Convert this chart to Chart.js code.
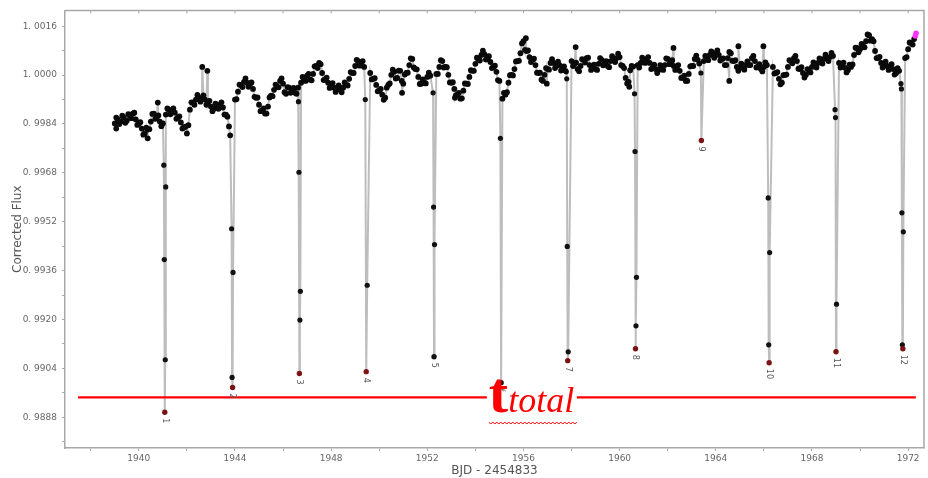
<!DOCTYPE html>
<html><head><meta charset="utf-8">
<script src="https://cdn.jsdelivr.net/npm/chart.js@4.4.1/dist/chart.umd.min.js"></script>
<style>html,body{margin:0;padding:0;background:#fff;}#wrap{width:928px;height:478px;}</style>
</head><body><div id="wrap"><canvas id="c" width="928" height="478"></canvas></div>
<script>
// ---- baseline (out-of-transit) light curve ----
const baseTime = [
1939.000,1939.125,1939.250,1939.375,1939.500,1939.625,1939.750,1939.875,
1940.000,1940.125,1940.250,1940.375,1940.500,1940.625,1940.750,1940.875,
1941.000,1941.125,1941.250,1941.375,1941.500,1941.625,1941.750,1941.875,
1942.000,1942.125,1942.250,1942.375,1942.500,1942.625,1942.750,1942.875,
1943.000,1943.125,1943.250,1943.375,1943.500,1943.625,1943.750,
1944.000,1944.125,1944.250,1944.375,1944.500,1944.625,1944.750,1944.875,
1945.000,1945.125,1945.250,1945.375,1945.500,1945.625,1945.750,1945.875,
1946.000,1946.125,1946.250,1946.375,1946.500,1946.625,1946.750,1946.875,
1947.000,1947.125,1947.250,1947.375,1947.500,1947.625,1947.750,1947.875,
1948.000,1948.125,1948.250,1948.375,1948.500,1948.625,1948.750,1948.875,
1949.000,1949.125,1949.250,1949.375,1949.625,1949.750,1949.875,
1950.000,1950.125,1950.250,1950.375,1950.500,1950.625,1950.750,1950.875,
1951.000,1951.125,1951.250,1951.375,1951.500,1951.625,1951.750,1951.875,
1952.000,1952.125,1952.375,1952.500,1952.625,1952.750,1952.875,
1953.000,1953.125,1953.250,1953.375,1953.500,1953.625,1953.750,1953.875,
1954.000,1954.125,1954.250,1954.375,1954.500,1954.625,1954.750,1954.875,
1955.000,1955.125,1955.250,1955.375,1955.500,1955.625,1955.750,1955.875,
1956.000,1956.125,1956.250,1956.375,1956.500,1956.625,1956.750,1956.875,
1957.000,1957.125,1957.250,1957.375,1957.500,1957.625,1957.750,
1958.000,1958.125,1958.250,1958.375,1958.500,1958.625,1958.750,1958.875,
1959.000,1959.125,1959.250,1959.375,1959.500,1959.625,1959.750,1959.875,
1960.000,1960.125,1960.250,1960.375,1960.500,1960.750,1960.875,
1961.000,1961.125,1961.250,1961.375,1961.500,1961.625,1961.750,1961.875,
1962.000,1962.125,1962.250,1962.375,1962.500,1962.625,1962.750,1962.875,
1963.000,1963.125,1963.250,1963.500,1963.625,1963.750,1963.875,
1964.000,1964.125,1964.250,1964.375,1964.500,1964.625,1964.750,1964.875,
1965.000,1965.125,1965.250,1965.375,1965.500,1965.625,1965.750,1965.875,
1966.000,1966.125,1966.375,1966.500,1966.625,1966.750,1966.875,
1967.000,1967.125,1967.250,1967.375,1967.500,1967.625,1967.750,1967.875,
1968.000,1968.125,1968.250,1968.375,1968.500,1968.625,1968.750,1968.875,
1969.125,1969.250,1969.375,1969.500,1969.625,1969.750,1969.875,
1970.000,1970.125,1970.250,1970.375,1970.500,1970.625,1970.750,1970.875,
1971.000,1971.125,1971.250,1971.375,1971.500,1971.625,1971.875,
1972.000,1972.125,1972.250
];
const baseFlux = [
0.99842,0.99855,0.99848,0.99861,0.99851,0.99868,0.99874,0.99855,
0.99842,0.99825,0.99809,0.99822,0.99848,0.99874,0.99864,0.99848,
0.99842,0.99871,0.99887,0.99881,0.99877,0.99861,0.99845,0.99829,
0.99809,0.99887,0.99910,0.99920,0.99926,0.99923,0.99920,0.99910,
0.99897,0.99890,0.99900,0.99903,0.99894,0.99871,0.99832,
0.99920,0.99946,0.99968,0.99978,0.99975,0.99972,0.99955,0.99926,
0.99903,0.99884,0.99874,0.99897,0.99933,0.99952,0.99962,0.99981,
0.99972,0.99939,0.99959,0.99949,0.99942,0.99959,0.99975,0.99988,
0.99998,0.99985,1.00004,1.00030,1.00040,1.00007,0.99985,0.99975,
0.99965,0.99959,0.99955,0.99952,0.99959,0.99968,0.99988,1.00007,
1.00030,1.00046,1.00040,1.00027,1.00007,0.99988,0.99968,
0.99949,0.99936,0.99926,0.99968,1.00001,1.00011,0.99991,1.00014,
0.99972,1.00007,1.00033,1.00053,1.00020,0.99994,0.99972,0.99975,
0.99994,0.99998,1.00004,1.00027,1.00046,1.00027,1.00001,
0.99975,0.99955,0.99936,0.99923,0.99949,0.99972,0.99994,1.00014,
1.00037,1.00053,1.00066,1.00069,1.00056,1.00043,1.00027,1.00011,
0.99981,0.99923,0.99936,0.99975,1.00001,1.00020,1.00046,1.00072,
1.00111,1.00079,1.00059,1.00050,1.00033,1.00007,0.99985,1.00001,
1.00020,1.00040,1.00040,1.00030,1.00033,1.00020,1.00014,
1.00046,1.00037,1.00020,1.00030,1.00050,1.00056,1.00033,1.00024,
1.00020,1.00037,1.00050,1.00037,1.00030,1.00046,1.00053,1.00056,
1.00059,1.00030,0.99991,0.99978,1.00030,1.00033,1.00040,
1.00050,1.00053,1.00040,1.00024,1.00020,1.00017,1.00024,1.00033,
1.00053,1.00043,1.00030,1.00027,1.00014,0.99991,0.99981,1.00004,
1.00030,1.00053,1.00050,1.00046,1.00056,1.00066,1.00066,
1.00072,1.00066,1.00053,1.00033,1.00056,1.00072,1.00046,1.00027,
1.00024,1.00027,1.00033,1.00033,1.00056,1.00046,1.00027,1.00020,
1.00027,1.00033,1.00027,1.00007,0.99988,0.99975,1.00001,
1.00027,1.00046,1.00056,1.00046,1.00020,1.00007,1.00001,1.00014,
1.00027,1.00033,1.00040,1.00046,1.00053,1.00056,1.00059,1.00063,
1.00040,1.00033,1.00024,1.00017,1.00027,1.00066,1.00089,
1.00085,1.00095,1.00111,1.00131,1.00118,1.00079,1.00056,1.00040,
1.00033,1.00030,1.00027,1.00020,1.00007,1.00014,1.00056,
1.00085,1.00105,1.00118
];
// ---- in-between observations: upper/lower edge of the scattered band ----
const scatterTime = [
1939.0625,1939.1875,1939.3125,1939.4375,1939.5625,1939.6875,1939.8125,1939.9375,
1940.0625,1940.1875,1940.3125,1940.4375,1940.5625,1940.6875,1940.8125,1940.9375,
1941.1875,1941.3125,1941.4375,1941.5625,1941.6875,1941.8125,1941.9375,
1942.0625,1942.1875,1942.3125,1942.4375,1942.5625,1942.6875,1942.8125,1942.9375,
1943.0625,1943.1875,1943.3125,1943.4375,1943.5625,1943.6875,
1944.0625,1944.1875,1944.3125,1944.4375,1944.5625,1944.6875,1944.8125,1944.9375,
1945.0625,1945.1875,1945.3125,1945.4375,1945.5625,1945.6875,1945.8125,1945.9375,
1946.0625,1946.1875,1946.3125,1946.4375,1946.5625,1946.8125,1946.9375,
1947.0625,1947.1875,1947.3125,1947.4375,1947.5625,1947.6875,1947.8125,1947.9375,
1948.0625,1948.1875,1948.3125,1948.4375,1948.5625,1948.6875,1948.8125,1948.9375,
1949.0625,1949.1875,1949.3125,1949.6875,1949.8125,1949.9375,
1950.0625,1950.1875,1950.3125,1950.4375,1950.5625,1950.6875,1950.8125,1950.9375,
1951.0625,1951.1875,1951.3125,1951.4375,1951.5625,1951.6875,1951.8125,1951.9375,
1952.0625,1952.4375,1952.5625,1952.6875,1952.8125,1952.9375,
1953.0625,1953.1875,1953.3125,1953.4375,1953.5625,1953.6875,1953.8125,1953.9375,
1954.0625,1954.1875,1954.3125,1954.4375,1954.5625,1954.6875,1954.8125,1954.9375,
1955.1875,1955.3125,1955.4375,1955.5625,1955.6875,1955.8125,1955.9375,
1956.0625,1956.1875,1956.3125,1956.4375,1956.5625,1956.6875,1956.8125,1956.9375,
1957.0625,1957.1875,1957.3125,1957.4375,1957.5625,1957.6875,
1958.0625,1958.1875,1958.3125,1958.4375,1958.5625,1958.6875,1958.8125,1958.9375,
1959.0625,1959.1875,1959.3125,1959.4375,1959.5625,1959.6875,1959.8125,1959.9375,
1960.0625,1960.1875,1960.3125,1960.4375,1960.5625,1960.8125,1960.9375,
1961.0625,1961.1875,1961.3125,1961.4375,1961.5625,1961.6875,1961.8125,1961.9375,
1962.0625,1962.1875,1962.3125,1962.4375,1962.5625,1962.6875,1962.8125,1962.9375,
1963.0625,1963.1875,1963.3125,1963.5625,1963.6875,1963.8125,1963.9375,
1964.0625,1964.1875,1964.3125,1964.4375,1964.5625,1964.6875,1964.8125,1964.9375,
1965.0625,1965.1875,1965.3125,1965.4375,1965.5625,1965.6875,1965.8125,1965.9375,
1966.0625,1966.4375,1966.5625,1966.6875,1966.8125,1966.9375,
1967.0625,1967.1875,1967.3125,1967.4375,1967.5625,1967.6875,1967.8125,1967.9375,
1968.0625,1968.1875,1968.3125,1968.4375,1968.5625,1968.6875,1968.8125,
1969.1875,1969.3125,1969.4375,1969.5625,1969.6875,1969.8125,1969.9375,
1970.0625,1970.1875,1970.3125,1970.4375,1970.5625,1970.6875,1970.8125,1970.9375,
1971.0625,1971.1875,1971.3125,1971.4375,1971.5625,1971.9375,
1972.0625,1972.1875
];
const scatterFlux = [
0.99861,0.99840,0.99867,0.99844,0.99872,0.99859,0.99877,0.99837,
0.99846,0.99805,0.99828,0.99823,0.99873,0.99857,0.99868,0.99833,
0.99891,0.99872,0.99891,0.99857,0.99865,0.99825,0.99831,
0.99836,0.99911,0.99903,0.99935,0.99913,0.99934,0.99903,0.99916,
0.99882,0.99907,0.99890,0.99911,0.99871,0.99864,
0.99921,0.99969,0.99961,0.99989,0.99962,0.99976,0.99929,0.99927,
0.99882,0.99891,0.99874,0.99927,0.99931,0.99969,0.99960,0.99989,
0.99944,0.99961,0.99942,0.99958,0.99939,0.99994,0.99981,
1.00004,0.99983,1.00029,1.00023,1.00036,0.99984,0.99992,0.99958,
0.99974,0.99945,0.99966,0.99944,0.99976,0.99966,1.00010,1.00007,
1.00050,1.00031,1.00046,0.99986,0.99990,0.99947,
0.99955,0.99919,0.99959,0.99973,1.00018,0.99989,1.00015,0.99981,
1.00002,1.00008,1.00055,1.00025,1.00019,0.99971,0.99986,0.99973,
1.00008,1.00004,1.00049,1.00025,1.00026,0.99976,
0.99977,0.99934,0.99942,0.99924,0.99973,0.99971,1.00016,1.00014,
1.00057,1.00048,1.00080,1.00051,1.00062,1.00023,1.00031,0.99984,
0.99942,0.99944,1.00000,0.99999,1.00045,1.00047,1.00104,
1.00083,1.00081,1.00043,1.00054,1.00008,1.00008,0.99981,1.00023,
1.00018,1.00052,1.00023,1.00044,1.00015,1.00029,
1.00030,1.00041,1.00013,1.00052,1.00041,1.00057,1.00017,1.00034,
1.00017,1.00056,1.00032,1.00046,1.00026,1.00062,1.00043,1.00070,
1.00033,1.00023,0.99973,1.00016,1.00028,1.00025,1.00057,
1.00040,1.00059,1.00020,1.00034,1.00007,1.00033,1.00017,1.00055,
1.00036,1.00049,1.00017,1.00033,0.99991,0.99998,0.99981,1.00029,
1.00030,1.00064,1.00038,1.00063,1.00049,1.00078,1.00057,
1.00081,1.00048,1.00055,1.00033,1.00076,1.00047,1.00049,1.00014,
1.00038,1.00018,1.00045,1.00033,1.00063,1.00025,1.00036,1.00012,
1.00042,1.00005,1.00010,0.99970,1.00000,1.00002,
1.00049,1.00039,1.00063,1.00021,1.00026,0.99992,1.00020,1.00009,
1.00042,1.00025,1.00055,1.00038,1.00067,1.00046,1.00073,
1.00025,1.00041,1.00009,1.00034,1.00035,1.00090,1.00075,
1.00102,1.00091,1.00133,1.00113,1.00111,1.00056,1.00060,1.00025,
1.00044,1.00017,1.00036,1.00002,1.00023,1.00059,
1.00107,1.00100
];
// ---- isolated outlying points ----
const extraTime = [1939.06,1940.37,1940.79,1942.64,1942.85,1943.80,1950.95,1953.15,1956.10,1956.97,1958.17,1960.40,1962.24,1964.56,1964.94,1965.98];
const extraFlux = [0.99825,0.99793,0.99910,1.00027,1.00014,0.99803,0.99942,0.99926,1.00121,0.99972,1.00092,0.99962,1.00089,0.99981,1.00095,1.00095];
// ---- in-transit points (excluding the deepest point of each transit) ----
const transitTime = [
1941.04,1941.06,1941.10,1941.12,
1943.86,1943.88,1943.92,
1946.64,1946.66,1946.70,1946.72,
1949.42,1949.50,
1952.24,1952.26,1952.30,
1955.04,
1957.78,1957.80,1957.82,1957.86,
1960.62,1960.64,1960.68,1960.70,
1963.38,
1966.18,1966.20,1966.24,
1968.96,1968.98,1969.02,
1971.70,1971.72,1971.74,1971.76,1971.80
];
const transitFlux = [
0.99705,0.99396,0.99068,0.99634,
0.99497,0.99010,0.99354,
0.99913,0.99682,0.99198,0.99292,
0.99920,0.99312,
0.99942,0.99568,0.99445,
0.99793,
1.00011,0.99988,0.99439,0.99094,
0.99939,0.99750,0.99179,0.99338,
1.00007,
0.99598,0.99117,0.99419,
0.99887,0.99861,0.99250,
0.99972,0.99955,0.99549,0.99117,0.99487
];
// ---- deepest point of each transit, and transit numbers ----
const minTime = [1941.08,1943.90,1946.68,1949.46,1952.28,1955.07,1957.84,1960.66,1963.40,1966.22,1969.00,1971.78];
const minFlux = [0.98896,0.98977,0.99023,0.99029,0.99078,0.98993,0.99065,0.99104,0.99786,0.99058,0.99094,0.99104];
const transitLabels = ["1","2","3","4","5","6","7","8","9","10","11","12"];
// ---- last (highlighted) points ----
const endTime = [1972.30,1972.33];
const endFlux = [1.00128,1.00137];
// ---- horizontal t_total marker ----
const totalLineTime = [1937.47,1972.32];
const totalLineFlux = [0.98945,0.98945];
const totalLabelTime = 1954.56;
// ---- axes ----
const xMajorTicks = [1940,1944,1948,1952,1956,1960,1964,1968,1972];
const xMinorTicks = [1938,1942,1946,1950,1954,1958,1962,1966,1970];
const yMajorTicks = [0.9888,0.9904,0.9920,0.9936,0.9952,0.9968,0.9984,1.0000,1.0016];
const yMinorTicks = [0.9880,0.9896,0.9912,0.9928,0.9944,0.9960,0.9976,0.9992,1.0008];
const xRange = [1936.93,1972.66];
const yRange = [0.98779,1.00212];
const xTitle = "BJD - 2454833";
const yTitle = "Corrected Flux";

const toPts=(ts,fs)=>ts.map((t,i)=>({x:t,y:fs[i]}));
const basePts = toPts(baseTime,baseFlux).concat(toPts(scatterTime,scatterFlux),toPts(extraTime,extraFlux));
const allPts = basePts.concat(toPts(transitTime,transitFlux),toPts(minTime,minFlux),toPts(endTime,endFlux)).sort((a,b)=>a.x-b.x);

const isIn=(arr,v)=>arr.some(a=>Math.abs(a-v)<1e-7);
const mkTicks=(maj,min)=>maj.concat(min).sort((a,b)=>a-b).map(v=>({value:v}));
const tickFont={family:"'DejaVu Sans', sans-serif",size:9};

const overlay={
  id:'overlay',
  afterDatasetsDraw(chart){
    const {ctx,chartArea:a,scales:{x,y}}=chart;
    ctx.save();
    ctx.strokeStyle='#a8a8a8';ctx.lineWidth=1.5;
    ctx.beginPath();ctx.moveTo(a.left,a.top);ctx.lineTo(a.right,a.top);ctx.lineTo(a.right,a.bottom);ctx.stroke();
    ctx.lineWidth=1;
    xMajorTicks.concat(xMinorTicks).forEach(v=>{const px=x.getPixelForValue(v);ctx.beginPath();ctx.moveTo(px,a.top);ctx.lineTo(px,a.top+3);ctx.stroke();});
    ctx.fillStyle='#555';ctx.font="8px 'DejaVu Sans', sans-serif";
    minTime.forEach((t,i)=>{
      const px=x.getPixelForValue(t),py=y.getPixelForValue(minFlux[i])+6;
      ctx.save();ctx.translate(px,py);ctx.rotate(Math.PI/2);ctx.textAlign='left';ctx.textBaseline='middle';ctx.fillText(transitLabels[i],0,0);ctx.restore();
    });
    const lx=x.getPixelForValue(totalLabelTime),ly=y.getPixelForValue(totalLineFlux[0]);
    ctx.fillStyle='#fff';ctx.fillRect(lx-2,ly-6,90,12);
    ctx.fillStyle='#f00';ctx.textAlign='left';ctx.textBaseline='alphabetic';
    ctx.font="bold 58px 'Liberation Serif', serif";ctx.fillText('t',lx,ly+15);
    const tw=ctx.measureText('t').width;
    ctx.font="italic 36px 'Liberation Serif', serif";ctx.fillText('total',lx+tw,ly+15);
    ctx.strokeStyle='#e00';ctx.lineWidth=1;ctx.beginPath();
    for(let i=0;i<=44;i++){const sx=lx+i*2,sy=ly+25+(i%2?1.5:0);i?ctx.lineTo(sx,sy):ctx.moveTo(sx,sy);}
    ctx.stroke();
    ctx.restore();
  }
};

new Chart(document.getElementById('c'),{
  type:'scatter',
  data:{datasets:[
    {data:toPts(totalLineTime,totalLineFlux),showLine:true,borderColor:'#f00',borderWidth:2.2,pointRadius:0,order:0},
    {data:toPts(minTime,minFlux),pointRadius:2.7,pointBorderWidth:0,
     pointBackgroundColor:c=>(c.dataIndex===4||c.dataIndex===5)?'#111':'#7a1414',order:1},
    {data:toPts(endTime,endFlux),pointRadius:2.8,pointBorderWidth:0,pointBackgroundColor:'#ff33ff',order:1},
    {data:basePts,pointRadius:2.9,pointBorderWidth:0,pointBackgroundColor:'#0a0a0a',order:2},
    {data:toPts(transitTime,transitFlux),pointRadius:2.6,pointBorderWidth:0,pointBackgroundColor:'#111',order:2},
    {data:allPts,showLine:true,borderColor:'#bdbdbd',borderWidth:2,pointRadius:0,order:3}
  ]},
  options:{
    responsive:false,animation:false,devicePixelRatio:1,
    layout:{padding:{left:0,right:2,top:7,bottom:0}},
    plugins:{legend:{display:false},tooltip:{enabled:false}},
    scales:{
      x:{type:'linear',min:xRange[0],max:xRange[1],
        afterBuildTicks:s=>{s.ticks=mkTicks(xMajorTicks,xMinorTicks);},
        afterFit:s=>{s.height=30;},
        ticks:{autoSkip:false,maxRotation:0,padding:2,color:'#666',font:tickFont,callback:v=>isIn(xMajorTicks,v)?String(v):''},
        grid:{drawOnChartArea:false,tickLength:3,color:'#a8a8a8'},
        border:{color:'#a8a8a8',width:1.5},
        title:{display:true,text:xTitle,color:'#555',font:{family:"'DejaVu Sans', sans-serif",size:12},padding:{top:0,bottom:0}}
      },
      y:{type:'linear',min:yRange[0],max:yRange[1],
        afterBuildTicks:s=>{s.ticks=mkTicks(yMajorTicks,yMinorTicks);},
        afterFit:s=>{s.width=65;},
        ticks:{autoSkip:false,padding:5,color:'#666',font:tickFont,callback:v=>isIn(yMajorTicks,v)?v.toFixed(4).replace('.','. '):''},
        grid:{drawOnChartArea:false,tickLength:3,color:'#a8a8a8'},
        border:{color:'#a8a8a8',width:1.5},
        title:{display:true,text:yTitle,color:'#555',font:{family:"'DejaVu Sans', sans-serif",size:12},padding:{top:11,bottom:0}}
      }
    }
  },
  plugins:[overlay]
});
</script></body></html>
